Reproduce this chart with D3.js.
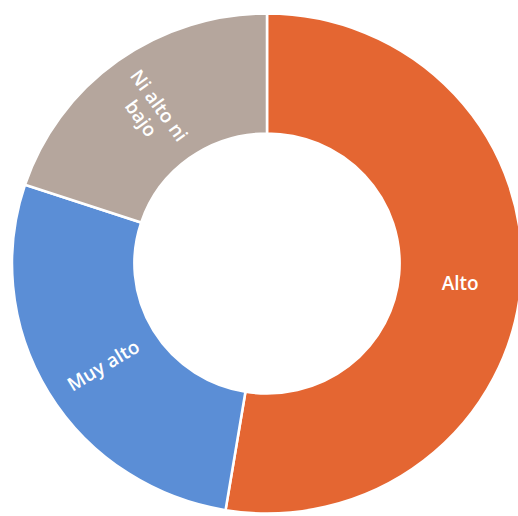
<!DOCTYPE html>
<html>
<head>
<meta charset="utf-8">
<script src="https://cdn.jsdelivr.net/npm/d3@7"></script>
<style>
body { margin: 0; background: #fff; }
</style>
</head>
<body>
<div id="chart"></div>
<script>
// data (share of answers, %)
var categories = ["Alto", "Muy alto", "Ni alto ni bajo"];
var values = [52.6, 27.5, 19.9];
var labelLines = [["Alto"], ["Muy alto"], ["Ni alto ni", "bajo"]];

var colors = ["#e46632", "#5b8ed6", "#b5a69d"];

var svgWidth = 518;
var svgHeight = 516;

var cx = 267, cy = 263.5;
var outerR = 250, innerR = 130;
var stretchX = 1.02; // the scan is a bit wider than tall

var svg = d3.select("#chart")
    .append("svg")
    .attr("width", svgWidth)
    .attr("height", svgHeight);

var pieData = d3.pie()
    .sort(null)
    .value(d => d)(values);

var arc = d3.arc()
    .innerRadius(innerR)
    .outerRadius(outerR);

var labelArc = d3.arc()
    .innerRadius((innerR + outerR) / 2)
    .outerRadius((innerR + outerR) / 2);

var color = d3.scaleOrdinal()
    .domain(categories)
    .range(colors);

var slices = svg.append("g")
    .attr("transform", `translate(${cx}, ${cy}) scale(${stretchX}, 1)`);

slices.selectAll("path")
    .data(pieData)
    .enter()
    .append("path")
    .attr("d", arc)
    .attr("fill", (d, i) => color(categories[i]))
    .attr("stroke", "#fff")
    .attr("stroke-width", 2.5);

var labels = svg.append("g")
    .attr("transform", `translate(${cx}, ${cy})`);

labels.selectAll("text")
    .data(pieData)
    .enter()
    .append("text")
    .attr("transform", function(d) {
        var c = labelArc.centroid(d);
        var mid = (d.startAngle + d.endAngle) / 2 * 180 / Math.PI;
        // left-hand labels run along the radius, the right one stays flat
        var rot = mid > 180 ? mid - 270 : 0;
        return `translate(${c[0] * stretchX}, ${c[1]}) rotate(${rot})`;
    })
    .attr("text-anchor", "middle")
    .attr("fill", "#fff")
    .style("font-family", "'Open Sans', sans-serif")
    .style("font-size", "19px")
    .style("font-weight", 600)
    .each(function(d, i) {
        var lines = labelLines[i];
        var t = d3.select(this);
        var lh = 22;
        lines.forEach(function(line, j) {
            t.append("tspan")
                .attr("x", 0)
                .attr("y", (j - (lines.length - 1) / 2) * lh + 11)
                .text(line);
        });
    });
</script>
</body>
</html>
